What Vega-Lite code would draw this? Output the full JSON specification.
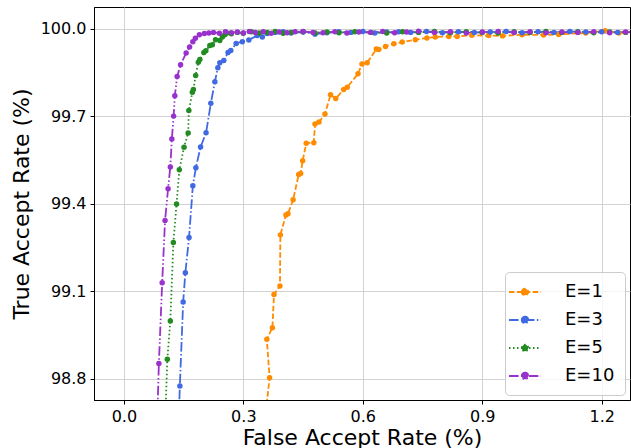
{
  "$schema": "https://vega.github.io/schema/vega-lite/v6.json",
  "width": 536,
  "height": 393,
  "autosize": {"type": "none"},
  "padding": {"left": 94, "top": 7, "right": 1, "bottom": 48},
  "background": "white",
  "config": {
    "font": "DejaVu Sans",
    "view": {"stroke": "#000000", "strokeWidth": 1},
    "axis": {
      "labelFont": "DejaVu Sans", "titleFont": "DejaVu Sans",
      "labelFontSize": 16, "titleFontSize": 22, "titleFontWeight": "normal",
      "labelColor": "#000000", "titleColor": "#000000",
      "tickColor": "#000000", "domainColor": "#000000",
      "gridColor": "#d3d3d3", "gridWidth": 1, "tickSize": 4, "labelPadding": 4
    }
  },
  "data": {"values": [
    {"s":"E=1","far":0.354,"tar":98.659},
    {"s":"E=1","far":0.366,"tar":98.804},
    {"s":"E=1","far":0.359,"tar":98.936},
    {"s":"E=1","far":0.373,"tar":98.976},
    {"s":"E=1","far":0.377,"tar":99.090},
    {"s":"E=1","far":0.392,"tar":99.119},
    {"s":"E=1","far":0.393,"tar":99.294},
    {"s":"E=1","far":0.407,"tar":99.362},
    {"s":"E=1","far":0.412,"tar":99.366},
    {"s":"E=1","far":0.425,"tar":99.414},
    {"s":"E=1","far":0.439,"tar":99.501},
    {"s":"E=1","far":0.444,"tar":99.504},
    {"s":"E=1","far":0.449,"tar":99.548},
    {"s":"E=1","far":0.458,"tar":99.608},
    {"s":"E=1","far":0.477,"tar":99.610},
    {"s":"E=1","far":0.480,"tar":99.674},
    {"s":"E=1","far":0.490,"tar":99.681},
    {"s":"E=1","far":0.505,"tar":99.708},
    {"s":"E=1","far":0.519,"tar":99.774},
    {"s":"E=1","far":0.532,"tar":99.761},
    {"s":"E=1","far":0.552,"tar":99.792},
    {"s":"E=1","far":0.561,"tar":99.800},
    {"s":"E=1","far":0.588,"tar":99.846},
    {"s":"E=1","far":0.598,"tar":99.880},
    {"s":"E=1","far":0.611,"tar":99.884},
    {"s":"E=1","far":0.634,"tar":99.931},
    {"s":"E=1","far":0.640,"tar":99.929},
    {"s":"E=1","far":0.657,"tar":99.940},
    {"s":"E=1","far":0.678,"tar":99.949},
    {"s":"E=1","far":0.699,"tar":99.955},
    {"s":"E=1","far":0.732,"tar":99.963},
    {"s":"E=1","far":0.761,"tar":99.969},
    {"s":"E=1","far":0.782,"tar":99.972},
    {"s":"E=1","far":0.816,"tar":99.974},
    {"s":"E=1","far":0.837,"tar":99.974},
    {"s":"E=1","far":0.874,"tar":99.978},
    {"s":"E=1","far":0.916,"tar":99.977},
    {"s":"E=1","far":0.951,"tar":99.976},
    {"s":"E=1","far":1.000,"tar":99.980},
    {"s":"E=1","far":1.054,"tar":99.979},
    {"s":"E=1","far":1.092,"tar":99.981},
    {"s":"E=1","far":1.160,"tar":99.986},
    {"s":"E=1","far":1.209,"tar":99.994},
    {"s":"E=1","far":1.243,"tar":99.986},
    {"s":"E=1","far":1.293,"tar":99.991},

    {"s":"E=3","far":0.138,"tar":98.676},
    {"s":"E=3","far":0.1406,"tar":98.776},
    {"s":"E=3","far":0.1489,"tar":99.064},
    {"s":"E=3","far":0.1544,"tar":99.164},
    {"s":"E=3","far":0.1637,"tar":99.285},
    {"s":"E=3","far":0.1732,"tar":99.462},
    {"s":"E=3","far":0.1808,"tar":99.524},
    {"s":"E=3","far":0.1926,"tar":99.595},
    {"s":"E=3","far":0.2064,"tar":99.644},
    {"s":"E=3","far":0.2184,"tar":99.745},
    {"s":"E=3","far":0.2285,"tar":99.819},
    {"s":"E=3","far":0.236,"tar":99.867},
    {"s":"E=3","far":0.241,"tar":99.884},
    {"s":"E=3","far":0.251,"tar":99.892},
    {"s":"E=3","far":0.2616,"tar":99.919},
    {"s":"E=3","far":0.2686,"tar":99.926},
    {"s":"E=3","far":0.282,"tar":99.950},
    {"s":"E=3","far":0.2975,"tar":99.956},
    {"s":"E=3","far":0.3138,"tar":99.962},
    {"s":"E=3","far":0.3347,"tar":99.977},
    {"s":"E=3","far":0.3477,"tar":99.972},
    {"s":"E=3","far":0.36,"tar":99.984},
    {"s":"E=3","far":0.38,"tar":99.988},
    {"s":"E=3","far":0.40,"tar":99.990},
    {"s":"E=3","far":0.42,"tar":99.986},
    {"s":"E=3","far":0.45,"tar":99.989},
    {"s":"E=3","far":0.48,"tar":99.982},
    {"s":"E=3","far":0.51,"tar":99.987},
    {"s":"E=3","far":0.54,"tar":99.990},
    {"s":"E=3","far":0.57,"tar":99.988},
    {"s":"E=3","far":0.60,"tar":99.991},
    {"s":"E=3","far":0.63,"tar":99.986},
    {"s":"E=3","far":0.66,"tar":99.989},
    {"s":"E=3","far":0.69,"tar":99.990},
    {"s":"E=3","far":0.72,"tar":99.988},
    {"s":"E=3","far":0.76,"tar":99.991},
    {"s":"E=3","far":0.80,"tar":99.987},
    {"s":"E=3","far":0.84,"tar":99.990},
    {"s":"E=3","far":0.88,"tar":99.988},
    {"s":"E=3","far":0.92,"tar":99.989},
    {"s":"E=3","far":0.96,"tar":99.991},
    {"s":"E=3","far":1.00,"tar":99.987},
    {"s":"E=3","far":1.04,"tar":99.990},
    {"s":"E=3","far":1.08,"tar":99.988},
    {"s":"E=3","far":1.12,"tar":99.991},
    {"s":"E=3","far":1.16,"tar":99.989},
    {"s":"E=3","far":1.20,"tar":99.990},
    {"s":"E=3","far":1.24,"tar":99.988},
    {"s":"E=3","far":1.28,"tar":99.990},

    {"s":"E=5","far":0.1042,"tar":98.676},
    {"s":"E=5","far":0.1092,"tar":98.868},
    {"s":"E=5","far":0.1167,"tar":98.999},
    {"s":"E=5","far":0.1243,"tar":99.268},
    {"s":"E=5","far":0.1323,"tar":99.400},
    {"s":"E=5","far":0.1393,"tar":99.517},
    {"s":"E=5","far":0.1511,"tar":99.594},
    {"s":"E=5","far":0.1614,"tar":99.643},
    {"s":"E=5","far":0.1632,"tar":99.720},
    {"s":"E=5","far":0.172,"tar":99.783},
    {"s":"E=5","far":0.1745,"tar":99.792},
    {"s":"E=5","far":0.1803,"tar":99.840},
    {"s":"E=5","far":0.187,"tar":99.886},
    {"s":"E=5","far":0.1908,"tar":99.895},
    {"s":"E=5","far":0.2009,"tar":99.919},
    {"s":"E=5","far":0.2059,"tar":99.925},
    {"s":"E=5","far":0.2159,"tar":99.943},
    {"s":"E=5","far":0.2222,"tar":99.946},
    {"s":"E=5","far":0.2302,"tar":99.963},
    {"s":"E=5","far":0.241,"tar":99.960},
    {"s":"E=5","far":0.2473,"tar":99.972},
    {"s":"E=5","far":0.2536,"tar":99.980},
    {"s":"E=5","far":0.2586,"tar":99.986},
    {"s":"E=5","far":0.27,"tar":99.983},
    {"s":"E=5","far":0.285,"tar":99.988},
    {"s":"E=5","far":0.30,"tar":99.985},
    {"s":"E=5","far":0.32,"tar":99.990},
    {"s":"E=5","far":0.34,"tar":99.986},
    {"s":"E=5","far":0.36,"tar":99.988},
    {"s":"E=5","far":0.38,"tar":99.991},
    {"s":"E=5","far":0.40,"tar":99.985},
    {"s":"E=5","far":0.42,"tar":99.988},
    {"s":"E=5","far":0.45,"tar":99.990},
    {"s":"E=5","far":0.48,"tar":99.986},
    {"s":"E=5","far":0.51,"tar":99.989},
    {"s":"E=5","far":0.54,"tar":99.987},
    {"s":"E=5","far":0.58,"tar":99.990},
    {"s":"E=5","far":0.62,"tar":99.988},
    {"s":"E=5","far":0.66,"tar":99.986},
    {"s":"E=5","far":0.70,"tar":99.990},
    {"s":"E=5","far":0.74,"tar":99.988},
    {"s":"E=5","far":0.78,"tar":99.991},
    {"s":"E=5","far":0.82,"tar":99.987},
    {"s":"E=5","far":0.86,"tar":99.990},
    {"s":"E=5","far":0.90,"tar":99.988},
    {"s":"E=5","far":0.94,"tar":99.986},
    {"s":"E=5","far":0.98,"tar":99.990},
    {"s":"E=5","far":1.02,"tar":99.988},
    {"s":"E=5","far":1.06,"tar":99.991},
    {"s":"E=5","far":1.10,"tar":99.988},
    {"s":"E=5","far":1.14,"tar":99.990},
    {"s":"E=5","far":1.18,"tar":99.987},
    {"s":"E=5","far":1.22,"tar":99.989},
    {"s":"E=5","far":1.26,"tar":99.988},
    {"s":"E=5","far":1.30,"tar":99.990},

    {"s":"E=10","far":0.0841,"tar":98.676},
    {"s":"E=10","far":0.0879,"tar":98.853},
    {"s":"E=10","far":0.0962,"tar":99.130},
    {"s":"E=10","far":0.1034,"tar":99.343},
    {"s":"E=10","far":0.111,"tar":99.452},
    {"s":"E=10","far":0.1167,"tar":99.527},
    {"s":"E=10","far":0.1205,"tar":99.623},
    {"s":"E=10","far":0.125,"tar":99.701},
    {"s":"E=10","far":0.128,"tar":99.771},
    {"s":"E=10","far":0.1338,"tar":99.837},
    {"s":"E=10","far":0.1424,"tar":99.877},
    {"s":"E=10","far":0.1564,"tar":99.917},
    {"s":"E=10","far":0.165,"tar":99.938},
    {"s":"E=10","far":0.1732,"tar":99.956},
    {"s":"E=10","far":0.1795,"tar":99.968},
    {"s":"E=10","far":0.1896,"tar":99.980},
    {"s":"E=10","far":0.2021,"tar":99.984},
    {"s":"E=10","far":0.2134,"tar":99.986},
    {"s":"E=10","far":0.225,"tar":99.988},
    {"s":"E=10","far":0.24,"tar":99.985},
    {"s":"E=10","far":0.255,"tar":99.990},
    {"s":"E=10","far":0.27,"tar":99.987},
    {"s":"E=10","far":0.285,"tar":99.989},
    {"s":"E=10","far":0.30,"tar":99.986},
    {"s":"E=10","far":0.315,"tar":99.991},
    {"s":"E=10","far":0.33,"tar":99.988},
    {"s":"E=10","far":0.35,"tar":99.990},
    {"s":"E=10","far":0.37,"tar":99.985},
    {"s":"E=10","far":0.39,"tar":99.989},
    {"s":"E=10","far":0.41,"tar":99.987},
    {"s":"E=10","far":0.43,"tar":99.990},
    {"s":"E=10","far":0.45,"tar":99.991},
    {"s":"E=10","far":0.475,"tar":99.988},
    {"s":"E=10","far":0.50,"tar":99.987},
    {"s":"E=10","far":0.53,"tar":99.990},
    {"s":"E=10","far":0.56,"tar":99.986},
    {"s":"E=10","far":0.59,"tar":99.989},
    {"s":"E=10","far":0.62,"tar":99.988},
    {"s":"E=10","far":0.65,"tar":99.991},
    {"s":"E=10","far":0.68,"tar":99.987},
    {"s":"E=10","far":0.71,"tar":99.989},
    {"s":"E=10","far":0.74,"tar":99.992},
    {"s":"E=10","far":0.78,"tar":99.988},
    {"s":"E=10","far":0.82,"tar":99.990},
    {"s":"E=10","far":0.86,"tar":99.986},
    {"s":"E=10","far":0.90,"tar":99.989},
    {"s":"E=10","far":0.94,"tar":99.991},
    {"s":"E=10","far":0.98,"tar":99.988},
    {"s":"E=10","far":1.02,"tar":99.990},
    {"s":"E=10","far":1.06,"tar":99.987},
    {"s":"E=10","far":1.10,"tar":99.989},
    {"s":"E=10","far":1.14,"tar":99.988},
    {"s":"E=10","far":1.18,"tar":99.990},
    {"s":"E=10","far":1.22,"tar":99.987},
    {"s":"E=10","far":1.26,"tar":99.989},
    {"s":"E=10","far":1.30,"tar":99.988}
  ]},
  "encoding": {
    "x": {"field": "far", "type": "quantitative",
      "scale": {"domain": [-0.075, 1.271], "nice": false, "zero": false},
      "axis": {"title": "False Accept Rate (%)", "values": [0, 0.3, 0.6, 0.9, 1.2], "format": ".1f", "titlePadding": 3}},
    "y": {"field": "tar", "type": "quantitative",
      "scale": {"domain": [98.728, 100.075], "nice": false, "zero": false},
      "axis": {"title": "True Accept Rate (%)", "values": [98.8, 99.1, 99.4, 99.7, 100.0], "format": ".1f", "titlePadding": 7}},
    "color": {"field": "s", "type": "nominal",
      "scale": {"domain": ["E=1", "E=3", "E=5", "E=10"], "range": ["#ff8c00", "#4169e1", "#228b22", "#9932cc"]},
      "legend": {
        "title": null, "orient": "bottom-right", "offset": 5,
        "symbolType": "M-1.78,0L1.78,0M-0.36,0A0.36,0.36,0,1,1,0.36,0A0.36,0.36,0,1,1,-0.36,0Z",
        "symbolSize": 324, "symbolStrokeWidth": 1.8,
        "labelFontSize": 18, "labelFont": "DejaVu Sans", "labelColor": "#000000",
        "rowPadding": 9, "labelOffset": 30, "padding": 10,
        "fillColor": "rgba(255,255,255,0.8)", "strokeColor": "#cccccc", "cornerRadius": 4,
        "encode": {"symbols": {"update": {"fill": {"scale": "color", "field": "value"}, "fillOpacity": {"value": 1}}}}
      }},
    "strokeDash": {"field": "s", "type": "nominal",
      "scale": {"domain": ["E=1", "E=3", "E=5", "E=10"], "range": [[5.5, 2.4], [9.6, 2.4, 1.5, 2.4], [1.5, 2.5], [9.6, 2.4, 1.5, 2.4, 1.5, 2.4]]}}
  },
  "layer": [
    {"mark": {"type": "line", "strokeWidth": 1.8, "clip": true},
     "encoding": {"order": {"value": null}}},
    {"mark": {"type": "circle", "size": 30, "opacity": 1, "clip": true},
     "encoding": {"strokeDash": {"value": [1, 0]}}}
  ]
}
